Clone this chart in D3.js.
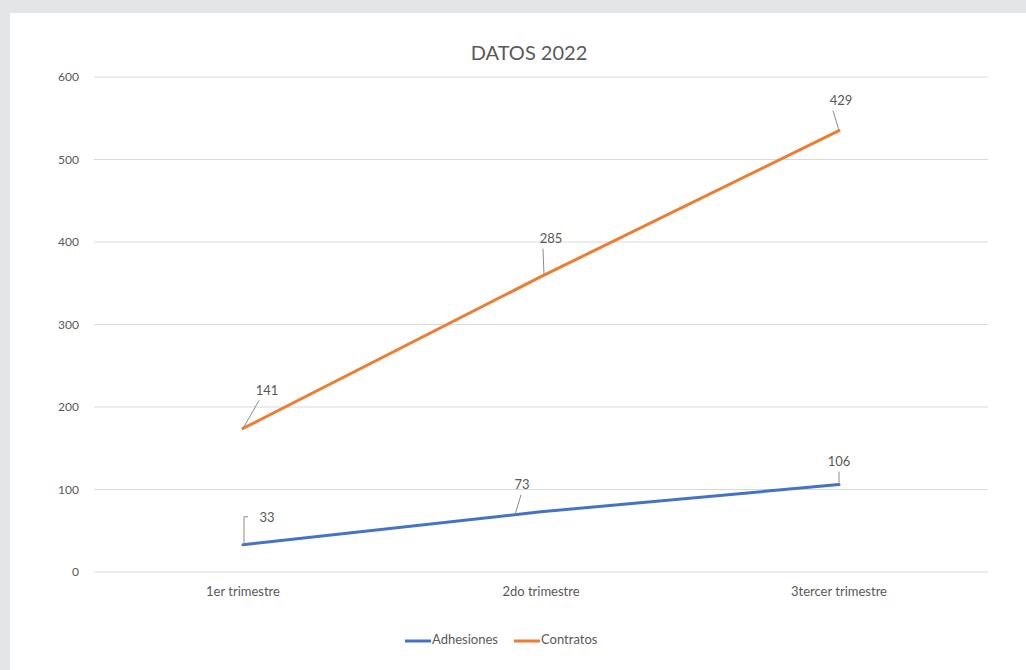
<!DOCTYPE html>
<html><head><meta charset="utf-8">
<script src="https://cdn.jsdelivr.net/npm/d3@7"></script>
<style>
html,body{margin:0;padding:0;background:#e4e5e7;}
svg{display:block;}
text{font-family:Lato,"Open Sans",sans-serif;fill:#595959;}
</style></head>
<body>
<svg id="c" width="1026" height="670"></svg>
<script>
const categories = ["1er trimestre", "2do trimestre", "3tercer trimestre"];
const adhesiones = [33, 73, 106];
const contratos = [141, 285, 429];
const yTicks = [0, 100, 200, 300, 400, 500, 600];
const seriesNames = ["Adhesiones", "Contratos"];
const colors = ["#4472C4", "#ED7D31"];
const title = "DATOS 2022";

const svg = d3.select("#c");
svg.append("rect").attr("x", 10).attr("y", 13).attr("width", 1016).attr("height", 657).attr("fill", "#fff");

const x = d3.scaleBand().domain(categories).range([94, 988]);
const y = d3.scaleLinear().domain([0, 600]).range([572, 77]);
const cx = c => x(c) + x.bandwidth() / 2;

// gridlines
svg.append("g").selectAll("line").data(yTicks).join("line")
  .attr("x1", 94).attr("x2", 988)
  .attr("y1", d => y(d)).attr("y2", d => y(d))
  .attr("stroke", "#d9d9d9").attr("stroke-width", 1.2);

// y axis labels
const yAxis = d3.axisLeft(y).tickValues(yTicks).tickSize(0).tickPadding(0);
const gy = svg.append("g").attr("transform", "translate(79,0)").call(yAxis);
gy.select(".domain").remove();
gy.selectAll("text").attr("font-size", 12).style("fill", "#595959").style("font-family", "Lato,sans-serif");

// x axis labels
const xAxis = d3.axisBottom(x).tickSize(0).tickPadding(0);
const gx = svg.append("g").attr("transform", "translate(0,587)").call(xAxis);
gx.select(".domain").remove();
gx.selectAll("text").attr("font-size", 13).style("fill", "#595959").style("font-family", "Lato,sans-serif");

// stacked values
const stacked = [adhesiones, contratos.map((v, i) => v + adhesiones[i])];
const raw = [adhesiones, contratos];

const line = d3.line().x((d, i) => cx(categories[i])).y(d => y(d));
stacked.forEach((s, k) => {
  svg.append("path").datum(s).attr("d", line)
    .attr("fill", "none").attr("stroke", colors[k]).attr("stroke-width", 3).attr("stroke-linecap", "round");
});

// data labels with leader lines (offsets in px)
const labelOffsets = [
  [[24, -26], [-19, -26], [0, -22]],
  [[24, -37], [10, -37], [2, -29]]
];
// leader start shift along the line (px in x)
const leaderStart = [[0, -26, 0], [0, 3, 0]];
raw.forEach((s, k) => {
  s.forEach((v, i) => {
    const px = cx(categories[i]), py = y(stacked[k][i]);
    const [dx, dy] = labelOffsets[k][i];
    const lx = px + dx, ly = py + dy;
    if (k === 0 && i === 0) {
      svg.append("path").attr("d", `M${px + 1},${py} L${px + 1},${ly - 2} L${px + 5},${ly - 2}`)
        .attr("fill", "none").attr("stroke", "#8c8c8c").attr("stroke-width", 1);
    } else {
      const sdx = leaderStart[k][i];
      let sx = px, sy = py;
      if (sdx !== 0) {
        const j = sdx < 0 ? i - 1 : i + 1;
        const qx = cx(categories[j]), qy = y(stacked[k][j]);
        sx = px + sdx; sy = py + (qy - py) * (sdx / (qx - px));
      }
      const ex = k === 0 && i === 1 ? lx - 1 : (dx === 0 ? lx : lx - Math.sign(dx) * 8);
      svg.append("line").attr("x1", sx).attr("y1", sy).attr("x2", ex).attr("y2", ly + 9)
        .attr("stroke", "#8c8c8c").attr("stroke-width", 1);
    }
    svg.append("text").attr("x", lx).attr("y", ly).attr("text-anchor", "middle")
      .attr("dominant-baseline", "middle").attr("font-size", 13).text(v);
  });
});

// title
svg.append("text").attr("x", 529).attr("y", 55).attr("text-anchor", "middle")
  .attr("dominant-baseline", "middle").attr("font-size", 20).text(title);

// legend
const legX = [405, 514];
seriesNames.forEach((n, k) => {
  svg.append("line").attr("x1", legX[k]).attr("x2", legX[k] + 26).attr("y1", 641).attr("y2", 641)
    .attr("stroke", colors[k]).attr("stroke-width", 3);
  svg.append("text").attr("x", legX[k] + 27).attr("y", 641).attr("dominant-baseline", "middle")
    .attr("font-size", 13).text(n);
});
</script>
</body></html>
